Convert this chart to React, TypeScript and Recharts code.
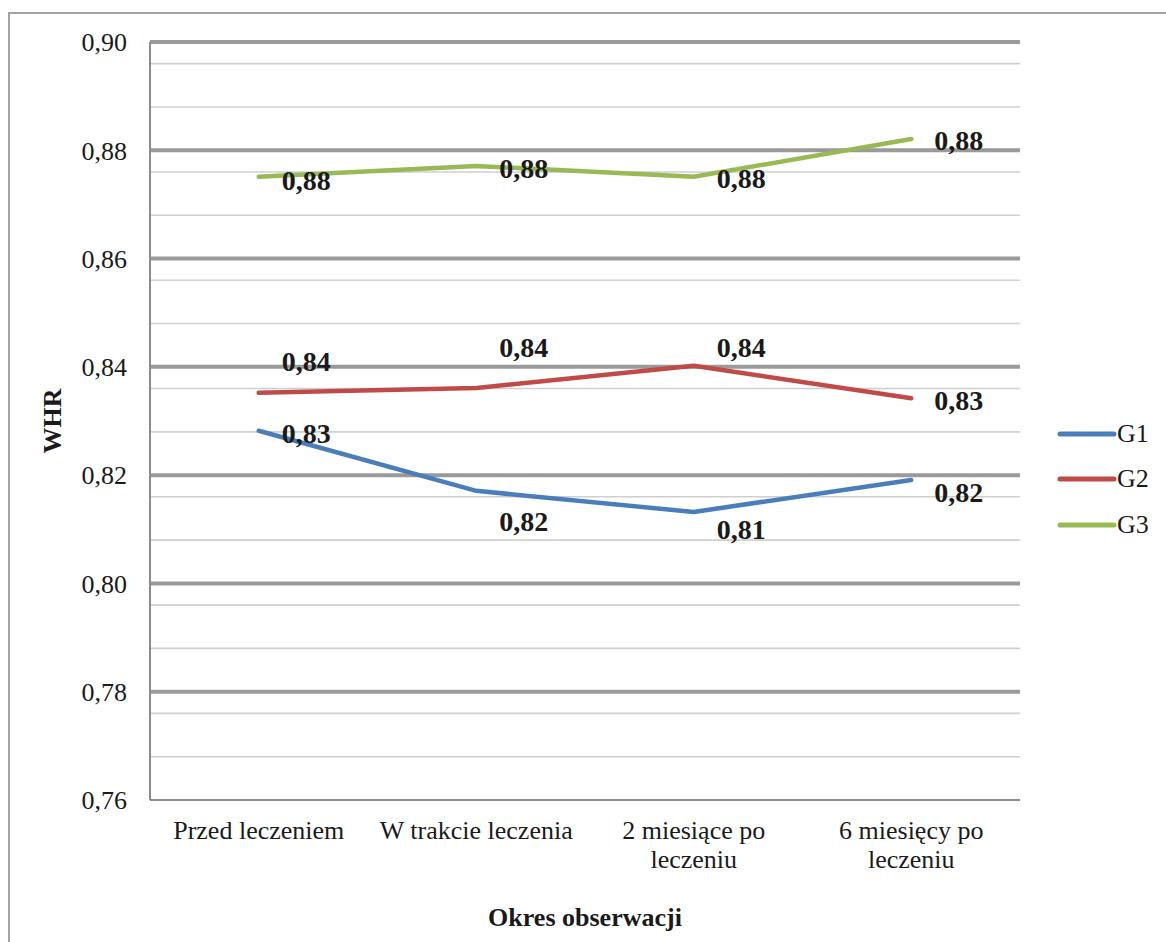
import React from 'react';
import { LineChart, Line, XAxis, YAxis, CartesianGrid, LabelList, Legend } from 'recharts';

// Observation periods (x categories)
const periods = ['Przed leczeniem', 'W trakcie leczenia', '2 miesiące po leczeniu', '6 miesięcy po leczeniu'];

// Mean WHR per group
const g1 = [0.8282, 0.8171, 0.8132, 0.8191];
const g2 = [0.8352, 0.8361, 0.8402, 0.8342];
const g3 = [0.8751, 0.8771, 0.8751, 0.8821];

// Y axis: major ticks and minor gridlines
const majorTicks = [0.76, 0.78, 0.8, 0.82, 0.84, 0.86, 0.88, 0.9];
const minorLines = [
  0.764, 0.768, 0.772, 0.776, 0.784, 0.788, 0.792, 0.796, 0.804, 0.808, 0.812, 0.816,
  0.824, 0.828, 0.832, 0.836, 0.844, 0.848, 0.852, 0.856, 0.864, 0.868, 0.872, 0.876,
  0.884, 0.888, 0.892, 0.896,
];

const data = periods.map((p, i) => ({ period: p, G1: g1[i], G2: g2[i], G3: g3[i] }));

const SERIF = '"Liberation Serif", "Times New Roman", Times, serif';
const COLORS = { G1: '#4A7EBB', G2: '#BE4B48', G3: '#98B954' };

// vertical placement of each value label relative to its point (px)
const labelShift: Record<string, number[]> = {
  G1: [2, 30, 17, 12],
  G2: [-32, -41, -19, 2],
  G3: [3, 2, 1, 1],
};

const fmt = (v: number) => v.toFixed(2).replace('.', ',');

const makeLabel = (key: string) => (props: any) => {
  const { x, y, value, index } = props;
  return (
    <text
      x={x + 23}
      y={y + labelShift[key][index] + 10}
      fontFamily={SERIF}
      fontSize={28}
      fontWeight="bold"
      fill="#1a1a1a"
      textAnchor="start"
    >
      {fmt(value)}
    </text>
  );
};

// greedy word wrap of a category name to the band width
let measureCtx: CanvasRenderingContext2D | null = null;
const wrapWords = (label: string, maxWidth: number, font: string): string[] => {
  if (!measureCtx) measureCtx = document.createElement('canvas').getContext('2d');
  const ctx = measureCtx!;
  ctx.font = font;
  const words = label.split(' ');
  const lines: string[] = [];
  let cur = '';
  for (const w of words) {
    const test = cur ? cur + ' ' + w : w;
    if (cur && ctx.measureText(test).width > maxWidth) {
      lines.push(cur);
      cur = w;
    } else {
      cur = test;
    }
  }
  if (cur) lines.push(cur);
  return lines;
};

const CategoryTick = (props: any) => {
  const { x, y, payload } = props;
  const lines = wrapWords(String(payload.value), 212, `26px ${SERIF}`);
  return (
    <text x={x} y={y} textAnchor="middle" fontFamily={SERIF} fontSize={26} fill="#1a1a1a">
      {lines.map((ln, i) => (
        <tspan key={i} x={x} dy={i === 0 ? 19 : 29}>
          {ln}
        </tspan>
      ))}
    </text>
  );
};

const LegendBox = (props: any) => {
  const { payload } = props;
  return (
    <div style={{ position: 'absolute', left: 0, top: 0, whiteSpace: 'nowrap' }}>
      {(payload || []).map((e: any) => (
        <div key={e.value} style={{ display: 'flex', alignItems: 'center', height: 45.5 }}>
          <svg width={60} height={10} style={{ display: 'block' }}>
            <line x1={3} y1={5} x2={57} y2={5} stroke={e.color} strokeWidth={5} strokeLinecap="round" />
          </svg>
          <span style={{ fontFamily: SERIF, fontSize: 26, color: '#1a1a1a', lineHeight: '26px' }}>{e.value}</span>
        </div>
      ))}
    </div>
  );
};

export default function App() {
  return (
    <div style={{ position: 'absolute', left: 0, top: 0, width: 1166, height: 942, overflow: 'hidden', background: '#fff' }}>
      <div
        style={{
          position: 'absolute',
          left: 8,
          top: 12,
          width: 1200,
          height: 1000,
          border: '2px solid #a3a3a3',
          boxSizing: 'border-box',
        }}
      />
      <div style={{ position: 'absolute', left: 0, top: 0 }}>
        <LineChart width={1166} height={942} data={data} margin={{ top: 42, right: 146, bottom: 82, left: 90 }}>
          <CartesianGrid vertical={false} horizontalValues={minorLines} stroke="#cfcfcf" strokeWidth={1.6} />
          <CartesianGrid vertical={false} horizontalValues={majorTicks.slice(1)} stroke="#9a9a9a" strokeWidth={4} />
          <XAxis
            dataKey="period"
            scale="band"
            height={60}
            tickLine={false}
            tickSize={0}
            tickMargin={20}
            interval={0}
            axisLine={{ stroke: '#8c8c8c', strokeWidth: 2 }}
            tick={<CategoryTick />}
            label={{
              content: (p: any) => {
                const vb = p.viewBox;
                return (
                  <text
                    x={vb.x + vb.width / 2}
                    y={vb.y + 126}
                    textAnchor="middle"
                    fontFamily={SERIF}
                    fontSize={26}
                    fontWeight="bold"
                    fill="#1a1a1a"
                  >
                    Okres obserwacji
                  </text>
                );
              },
            }}
          />
          <YAxis
            width={60}
            domain={[0.76, 0.9]}
            ticks={majorTicks}
            tickFormatter={fmt}
            tickLine={false}
            tickSize={0}
            tickMargin={23}
            axisLine={{ stroke: '#8c8c8c', strokeWidth: 2 }}
            tick={{ fontFamily: SERIF, fontSize: 26, fill: '#1a1a1a' }}
            label={{
              content: (p: any) => {
                const vb = p.viewBox;
                const cx = vb.x - 38;
                const cy = vb.y + vb.height / 2;
                return (
                  <text
                    x={cx}
                    y={cy}
                    transform={`rotate(-90, ${cx}, ${cy})`}
                    textAnchor="middle"
                    dominantBaseline="central"
                    fontFamily={SERIF}
                    fontSize={26}
                    fontWeight="bold"
                    fill="#1a1a1a"
                  >
                    WHR
                  </text>
                );
              },
            }}
          />
          <Legend
            content={<LegendBox />}
            wrapperStyle={{ left: 1057, top: 411, width: 0, height: 0, overflow: 'visible' }}
          />
          {(['G1', 'G2', 'G3'] as const).map((k) => (
            <Line
              key={k}
              type="linear"
              dataKey={k}
              name={k}
              stroke={COLORS[k]}
              strokeWidth={4.5}
              strokeLinecap="round"
              strokeLinejoin="round"
              dot={false}
              activeDot={false}
              isAnimationActive={false}
            >
              <LabelList dataKey={k} content={makeLabel(k)} />
            </Line>
          ))}
        </LineChart>
      </div>
    </div>
  );
}
